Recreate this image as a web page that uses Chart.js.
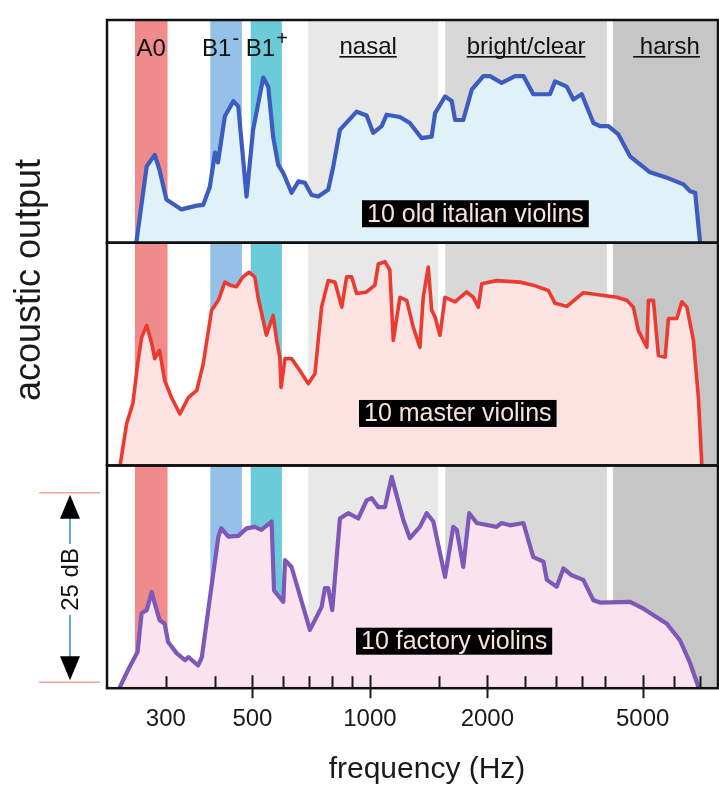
<!DOCTYPE html>
<html>
<head>
<meta charset="utf-8">
<script src="https://cdn.jsdelivr.net/npm/chart.js@4.4.1/dist/chart.umd.min.js"></script>
<style>
  html, body { margin: 0; padding: 0; background: #fff; }
  canvas { display: block; }
</style>
</head>
<body>
<canvas id="chart" width="719" height="786"></canvas>
<script>
// ===== DATA =====
// frequency axis
const tickValues = [300, 400, 500, 600, 700, 800, 900, 1000, 1500, 2000, 2500, 3000, 3500, 4000, 5000, 6000, 7000];
const majorTicks = [500, 1000, 2000, 5000];
const tickLabels = [300, 500, 1000, 2000, 5000];

// frequency bands (Hz)
const bandStart = [250, 390, 495, 695, 1560, 4200];
const bandEnd = [303, 470, 595, 1495, 4050, 7800];
const bandLabels = ['A0', 'B1', 'B1', 'nasal', 'bright/clear', ' harsh'];
const bandSup = ['', '-', '+', '', '', ''];

// 10 old italian violins (level in dB)
const oldFreq = [252, 268, 281, 289, 301, 329, 360, 374, 389, 401, 408, 425, 447, 460, 483, 502, 533, 549, 565, 582,
  600, 630, 656, 682, 709, 737, 782, 806, 838, 925, 981, 1020, 1072, 1104, 1194, 1266, 1357, 1440, 1469, 1558,
  1621, 1653, 1735, 1824, 1953, 2031, 2176, 2355, 2474, 2623, 2894, 2982, 3196, 3322, 3491, 3740, 3889, 4085, 4333, 4642,
  5224, 5822, 6362, 6616, 6816, 7019];
const oldLevel = [0, 10.1, 11.6, 9.6, 5.7, 4.4, 4.9, 5.0, 7.4, 11.9, 10.6, 16.7, 18.7, 18.0, 6.1, 14.9, 21.8, 20.6, 14.0, 10.3,
  9.2, 6.6, 8.1, 7.9, 6.3, 6.1, 7.0, 10.1, 14.9, 17.3, 16.8, 14.5, 15.4, 16.9, 16.6, 15.8, 13.8, 14.0, 17.1, 19.3,
  18.7, 16.2, 16.2, 20.2, 22.0, 22.0, 21.1, 22.0, 22.0, 19.6, 19.6, 21.3, 20.6, 18.9, 19.6, 15.8, 15.4, 15.4, 14.3, 11.4,
  9.3, 8.5, 7.7, 6.8, 6.6, 0];

// 10 master violins
const masterFreq = [229, 238, 247, 254, 260, 268, 276, 281, 289, 298, 310, 326, 343, 360, 374, 393, 409, 425, 438, 455,
  473, 490, 507, 517, 543, 565, 577, 588, 592, 606, 630, 662, 695, 723, 752, 782, 814, 847, 872, 898,
  925, 981, 1030, 1051, 1093, 1125, 1148, 1194, 1243, 1291, 1343, 1370, 1411, 1440, 1469, 1512, 1558, 1653, 1770, 1841,
  1896, 1935, 2113, 2425, 2623, 2867, 2982, 3196, 3524, 3889, 4293, 4554, 4735, 4876, 5126, 5174, 5329, 5488, 5711, 5822,
  6119, 6302, 6492, 6748, 6948, 7092];
const masterLevel = [0, 5.5, 8.2, 13.4, 16.9, 18.5, 16.1, 14.1, 15.2, 11.2, 9.0, 6.8, 9.0, 9.9, 13.4, 20.5, 21.8, 24.2, 23.8, 23.6,
  24.9, 25.5, 24.9, 22.2, 17.2, 19.8, 16.5, 14.3, 10.3, 14.1, 14.1, 12.5, 10.8, 12.1, 20.9, 24.4, 24.2, 20.9, 24.9, 24.9,
  22.7, 22.9, 23.8, 26.6, 26.9, 25.8, 16.5, 22.2, 21.8, 18.3, 15.6, 22.2, 26.2, 20.5, 19.6, 17.2, 22.2, 21.6, 22.9, 22.2,
  20.9, 24.0, 24.4, 24.2, 23.8, 23.1, 21.4, 21.0, 22.8, 22.5, 22.2, 21.8, 20.9, 17.8, 15.6, 21.8, 21.8, 14.5, 14.3, 19.4,
  19.4, 21.6, 20.9, 16.5, 9.0, 0];

// 10 factory violins
const factoryFreq = [229, 240, 254, 260, 268, 276, 281, 289, 298, 304, 320, 336, 343, 363, 371, 397, 409, 416, 434, 460,
  483, 507, 527, 560, 568, 600, 606, 630, 702, 752, 767, 782, 801, 838, 880, 934, 981, 1010, 1051, 1093,
  1137, 1218, 1266, 1343, 1398, 1454, 1558, 1636, 1670, 1735, 1797, 1879, 2113, 2176, 2285, 2474, 2623, 2784, 2841, 3012,
  3133, 3291, 3524, 3740, 3889, 4642, 5024, 5768, 6237, 6616, 6948];
const factoryLevel = [0.2, 2.4, 4.8, 9.9, 10.3, 12.7, 11.2, 9.0, 8.5, 6.1, 4.6, 3.7, 4.1, 3.0, 4.1, 15.2, 20.0, 21.1, 20.0, 20.1,
  21.1, 21.3, 20.9, 22.0, 12.9, 11.4, 16.9, 16.0, 7.7, 10.7, 13.2, 13.2, 10.3, 22.4, 23.1, 22.4, 24.8, 25.1, 23.9, 23.9,
  27.9, 22.2, 19.8, 21.3, 23.1, 22.0, 14.7, 21.3, 20.9, 16.0, 23.1, 21.8, 21.3, 21.8, 21.5, 21.8, 17.3, 16.7, 14.3, 13.4,
  15.8, 14.9, 14.3, 11.6, 11.3, 11.4, 10.5, 8.5, 6.3, 3.3, 0.2];

// 25 dB scale bar (dB on the bottom panel)
const scaleBar = [0.8, 25.8];

// ===== STYLE =====
const FONT = "'Liberation Sans', Arial, Helvetica, sans-serif";
const bandColors = ['#f08b8b', '#95c0e7', '#6ccbd9', '#e8e8e8', '#d8d8d8', '#c6c6c6'];
const bandLabelDx = [0, -6, 0, -5, 0, 1];
const boxLeft = [255, 252, 249];   // px from chart left
const boxRise = [29, 52, 47];      // px above panel bottom

const toPoints = (f, l) => f.map((v, i) => ({ x: v, y: l[i] }));

const decor = {
  id: 'decor',
  beforeDatasetsDraw(chart) {
    const { ctx, chartArea: a, scales: { x } } = chart;
    ctx.save();
    bandStart.forEach((s, i) => {
      const l = Math.max(x.getPixelForValue(s), a.left);
      const r = Math.min(x.getPixelForValue(bandEnd[i]), a.right);
      ctx.fillStyle = bandColors[i];
      ctx.fillRect(l, a.top, r - l, a.bottom - a.top);
    });
    ctx.restore();
  },
  afterDatasetsDraw(chart) {
    const { ctx, chartArea: a, scales } = chart;
    const x = scales.x;
    ctx.save();

    // panel frames
    ctx.strokeStyle = '#111';
    ctx.lineWidth = 2.5;
    ['yOld', 'yMaster', 'yFactory'].forEach(id => {
      const s = scales[id];
      ctx.strokeRect(a.left, s.top, a.right - a.left, s.bottom - s.top);
    });

    // tick marks
    ctx.lineWidth = 2;
    ctx.strokeStyle = '#1a1a1a';
    tickValues.forEach(v => {
      const px = Math.round(x.getPixelForValue(v)) + 0.5;
      const major = majorTicks.includes(v);
      ctx.beginPath();
      ctx.moveTo(px, a.bottom - (major ? 13 : 12));
      ctx.lineTo(px, a.bottom + (major ? 10 : 0));
      ctx.stroke();
    });

    // band labels
    ctx.fillStyle = '#111';
    ctx.textBaseline = 'alphabetic';
    bandLabels.forEach((t, i) => {
      const cx = (Math.max(x.getPixelForValue(bandStart[i]), a.left) + Math.min(x.getPixelForValue(bandEnd[i]), a.right)) / 2 + bandLabelDx[i];
      ctx.font = `24px ${FONT}`;
      const w = ctx.measureText(t).width;
      ctx.font = `20px ${FONT}`;
      const ws = bandSup[i] ? ctx.measureText(bandSup[i]).width : 0;
      const left = cx - (w + ws) / 2;
      ctx.font = `24px ${FONT}`;
      ctx.textAlign = 'left';
      const underline = i >= 3;
      const base = underline ? 53.5 : 55.5;
      ctx.fillText(t, left, base);
      if (bandSup[i]) {
        ctx.font = `20px ${FONT}`;
        ctx.fillText(bandSup[i], left + w + 1, base - 11);
      }
      if (underline) {
        ctx.fillRect(left, base + 2.5, w, 1.6);
      }
    });

    // panel labels
    chart.data.datasets.forEach((ds, i) => {
      const s = scales[ds.yAxisID];
      ctx.font = `25px ${FONT}`;
      const w = ctx.measureText(ds.label).width;
      const left = a.left + boxLeft[i];
      const cy = s.bottom - boxRise[i];
      ctx.fillStyle = '#000';
      ctx.fillRect(left, cy - 13.5, w + 10, 27);
      ctx.fillStyle = '#f6e4da';
      ctx.textAlign = 'left';
      ctx.textBaseline = 'middle';
      ctx.fillText(ds.label, left + 5, cy + 1);
    });

    // 25 dB scale bar
    const yf = scales.yFactory;
    const yTop = yf.getPixelForValue(scaleBar[1]);
    const yBot = yf.getPixelForValue(scaleBar[0]);
    const bx = 70;
    ctx.strokeStyle = '#f2a593';
    ctx.lineWidth = 1.5;
    [yTop, yBot].forEach(yy => {
      ctx.beginPath();
      ctx.moveTo(39, yy);
      ctx.lineTo(100, yy);
      ctx.stroke();
    });
    ctx.strokeStyle = '#2d8ee0';
    ctx.lineWidth = 1.5;
    ctx.beginPath();
    ctx.moveTo(bx, yTop + 24);
    ctx.lineTo(bx, yBot - 24);
    ctx.stroke();
    ctx.fillStyle = '#000';
    ctx.beginPath();
    ctx.moveTo(bx, yTop + 2);
    ctx.lineTo(bx - 10, yTop + 26);
    ctx.lineTo(bx + 10, yTop + 26);
    ctx.closePath();
    ctx.fill();
    ctx.beginPath();
    ctx.moveTo(bx, yBot - 2);
    ctx.lineTo(bx - 10, yBot - 26);
    ctx.lineTo(bx + 10, yBot - 26);
    ctx.closePath();
    ctx.fill();
    const mid = (yTop + yBot) / 2 - 8;
    ctx.save();
    ctx.translate(bx, mid);
    ctx.rotate(-Math.PI / 2);
    ctx.font = `24px ${FONT}`;
    const tw = ctx.measureText('25 dB').width;
    ctx.fillStyle = '#fff';
    ctx.fillRect(-tw / 2 - 4, -12, tw + 8, 24);
    ctx.fillStyle = '#111';
    ctx.textAlign = 'center';
    ctx.textBaseline = 'middle';
    ctx.fillText('25 dB', 0, 1);
    ctx.restore();

    // axis titles
    ctx.fillStyle = '#1a1a1a';
    ctx.textAlign = 'center';
    ctx.textBaseline = 'alphabetic';
    ctx.font = `30px ${FONT}`;
    ctx.fillText('frequency (Hz)', 427, 778);
    ctx.save();
    ctx.translate(30, 280);
    ctx.rotate(-Math.PI / 2);
    ctx.font = `36px ${FONT}`;
    ctx.textBaseline = 'middle';
    ctx.fillText('acoustic output', 0, 0);
    ctx.restore();

    ctx.restore();
  }
};

const panelAxis = { type: 'linear', stack: 'panels', stackWeight: 1, min: 0, max: 29.4, display: false };

new Chart(document.getElementById('chart'), {
  type: 'line',
  data: {
    datasets: [
      { label: '10 old italian violins', data: toPoints(oldFreq, oldLevel), yAxisID: 'yOld',
        borderColor: '#3c5cc0', backgroundColor: '#e0f2f8', borderWidth: 4.2, fill: 'start' },
      { label: '10 master violins', data: toPoints(masterFreq, masterLevel), yAxisID: 'yMaster',
        borderColor: '#ec3a30', backgroundColor: '#fde2e2', borderWidth: 3.6, fill: 'start' },
      { label: '10 factory violins', data: toPoints(factoryFreq, factoryLevel), yAxisID: 'yFactory',
        borderColor: '#7d58b8', backgroundColor: '#fae2ef', borderWidth: 4.2, fill: 'start' }
    ]
  },
  options: {
    responsive: false,
    animation: false,
    elements: {
      point: { radius: 0 },
      line: { tension: 0, borderJoinStyle: 'round', borderCapStyle: 'round' }
    },
    layout: { padding: { left: 107, right: 1, top: 20, bottom: 35 } },
    plugins: { legend: { display: false }, tooltip: { enabled: false } },
    scales: {
      x: {
        type: 'logarithmic',
        min: 212,
        max: 7800,
        grid: { display: false, drawTicks: false },
        border: { display: false },
        afterBuildTicks: s => { s.ticks = tickValues.map(v => ({ value: v })); },
        ticks: {
          autoSkip: false,
          maxRotation: 0,
          padding: 17,
          color: '#1a1a1a',
          font: { family: FONT, size: 24 },
          callback: v => tickLabels.includes(v) ? String(v) : ''
        }
      },
      yFactory: { ...panelAxis },
      yMaster: { ...panelAxis },
      yOld: { ...panelAxis }
    }
  },
  plugins: [decor]
});
</script>
</body>
</html>
